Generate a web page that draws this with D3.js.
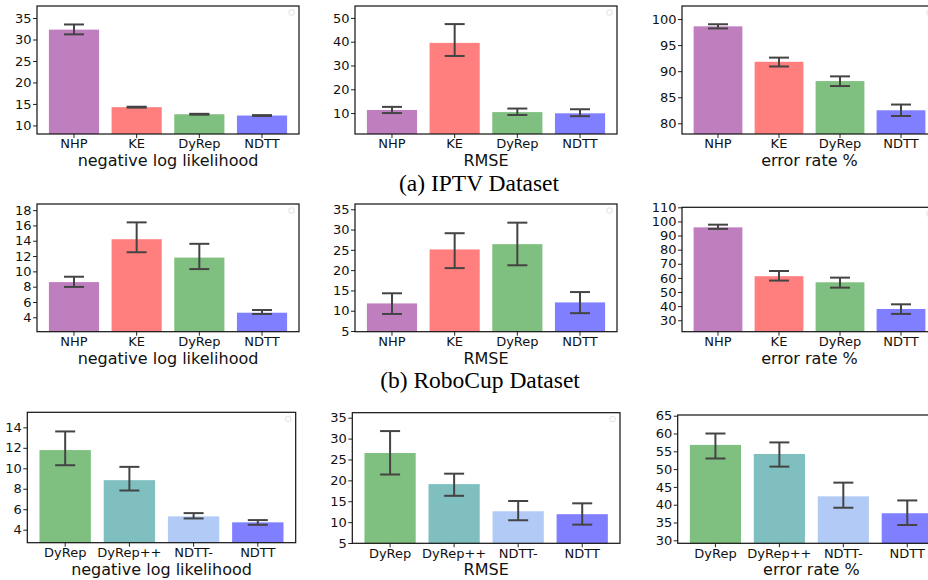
<!DOCTYPE html>
<html>
<head>
<meta charset="utf-8">
<script src="https://cdnjs.cloudflare.com/ajax/libs/d3/7.8.5/d3.min.js"></script>
<style>
	body { margin: 0; background: #fff; }
	text { font-family: "DejaVu Sans", sans-serif; fill: #222; }
	.caption { font-family: "Liberation Serif", "Times New Roman", serif; fill: #000; }
</style>
</head>
<body>
<div class="chart"></div>
<script>

	// models
	var baseModels = ["NHP", "KE", "DyRep", "NDTT"];
	var ablModels = ["DyRep", "DyRep++", "NDTT-", "NDTT"];

	// IPTV
	var iptvNll = [32.3, 14.25, 12.6, 12.3];
	var iptvNllLo = [31.2, 14.15, 12.5, 12.2];
	var iptvNllHi = [33.5, 14.35, 12.7, 12.4];
	var iptvRmse = [11.3, 39.5, 10.4, 9.9];
	var iptvRmseLo = [10.0, 34.0, 9.2, 8.7];
	var iptvRmseHi = [12.6, 47.4, 11.9, 11.6];
	var iptvErr = [98.6, 91.8, 88.1, 82.5];
	var iptvErrLo = [98.2, 90.9, 87.15, 81.4];
	var iptvErrHi = [99.0, 92.6, 89.0, 83.6];

	// RoboCup
	var roboNll = [8.6, 14.2, 11.8, 4.6];
	var roboNllLo = [7.97, 12.5, 10.3, 4.43];
	var roboNllHi = [9.3, 16.4, 13.6, 4.95];
	var roboRmse = [11.8, 25.1, 26.4, 12.05];
	var roboRmseLo = [9.2, 20.5, 21.2, 9.4];
	var roboRmseHi = [14.3, 29.1, 31.7, 14.6];
	var roboErr = [95.8, 61.2, 56.9, 38.0];
	var roboErrLo = [94.7, 58.1, 53.1, 34.5];
	var roboErrHi = [97.7, 64.9, 60.2, 41.3];

	// ablation
	var ablNll = [11.78, 8.84, 5.3, 4.72];
	var ablNllLo = [10.3, 7.83, 5.1, 4.48];
	var ablNllHi = [13.6, 10.14, 5.62, 4.94];
	var ablRmse = [26.55, 19.1, 12.6, 11.9];
	var ablRmseLo = [21.4, 16.3, 10.45, 9.4];
	var ablRmseHi = [31.8, 21.6, 15.06, 14.5];
	var ablErr = [56.8, 54.25, 42.35, 37.6];
	var ablErrLo = [52.98, 50.7, 39.15, 34.3];
	var ablErrHi = [60.0, 57.5, 46.2, 41.2];

	// tick labels
	var ticks1 = [10, 15, 20, 25, 30, 35];
	var ticks2 = [10, 20, 30, 40, 50];
	var ticks3 = [80, 85, 90, 95, 100];
	var ticks4 = [4, 6, 8, 10, 12, 14, 16, 18];
	var ticks5 = [5, 10, 15, 20, 25, 30, 35];
	var ticks6 = [30, 40, 50, 60, 70, 80, 90, 100, 110];
	var ticks7 = [4, 6, 8, 10, 12, 14];
	var ticks8 = [5, 10, 15, 20, 25, 30, 35];
	var ticks9 = [30, 35, 40, 45, 50, 55, 60, 65];

	var colors = {
		"NHP": "#bf7fbf",
		"KE": "#ff7f7f",
		"DyRep": "#7fbf7f",
		"NDTT": "#7f7fff",
		"DyRep++": "#7fbfbf",
		"NDTT-": "#b1caf6"
	};

	var svg = d3.select(".chart").append("svg")
				.attr("width", 928)
				.attr("height", 580);

	var drawPanel = function(box, models, vals, lo, hi, domain, ticks, label){
		var x0 = box[0], y0 = box[1], x1 = box[2], y1 = box[3];

		var x = d3.scaleBand()
				.domain(models)
				.range([x0, x1])
				.paddingInner(0.2)
				.paddingOuter(0.19);

		var y = d3.scaleLinear()
				.domain(domain)
				.range([y1, y0]);

		var g = svg.append("g");

		g.selectAll(".bar")
			.data(models)
			.enter().append("rect")
			.attr("x", function(d){ return x(d); })
			.attr("y", function(d, i){ return y(vals[i]); })
			.attr("width", x.bandwidth())
			.attr("height", function(d, i){ return y1 - y(vals[i]); })
			.style("fill", function(d){ return colors[d]; });

		// error bars
		var eb = g.selectAll(".err")
			.data(models)
			.enter().append("g")
			.attr("stroke", "#444")
			.attr("stroke-width", 2);

		eb.append("line")
			.attr("x1", function(d){ return x(d) + x.bandwidth() / 2; })
			.attr("x2", function(d){ return x(d) + x.bandwidth() / 2; })
			.attr("y1", function(d, i){ return y(lo[i]); })
			.attr("y2", function(d, i){ return y(hi[i]); });

		eb.append("line")
			.attr("x1", function(d){ return x(d) + x.bandwidth() / 2 - 10; })
			.attr("x2", function(d){ return x(d) + x.bandwidth() / 2 + 10; })
			.attr("y1", function(d, i){ return y(lo[i]); })
			.attr("y2", function(d, i){ return y(lo[i]); });

		eb.append("line")
			.attr("x1", function(d){ return x(d) + x.bandwidth() / 2 - 10; })
			.attr("x2", function(d){ return x(d) + x.bandwidth() / 2 + 10; })
			.attr("y1", function(d, i){ return y(hi[i]); })
			.attr("y2", function(d, i){ return y(hi[i]); });

		// axes
		g.append("g")
			.attr("transform", "translate(" + x0 + ",0)")
			.call(d3.axisLeft(y).tickValues(ticks).tickSize(4).tickPadding(1.5));

		g.append("g")
			.attr("transform", "translate(0," + y1 + ")")
			.call(d3.axisBottom(x).tickSize(4).tickPadding(1));

		g.selectAll(".domain").remove();
		g.selectAll(".tick text")
			.attr("font-size", "13px")
			.style("font-family", "DejaVu Sans")
			.style("fill", "#111");
		g.selectAll(".tick line").attr("stroke", "#222");

		// frame
		g.append("rect")
			.attr("x", x0)
			.attr("y", y0)
			.attr("width", x1 - x0)
			.attr("height", y1 - y0)
			.style("fill", "none")
			.style("stroke", "#111")
			.style("stroke-width", 1.2);

		// empty legend
		g.append("rect")
			.attr("x", x1 - 10)
			.attr("y", y0 + 4)
			.attr("width", 5)
			.attr("height", 5)
			.attr("rx", 1)
			.style("fill", "#fff")
			.style("stroke", "#d8d8d8")
			.style("stroke-width", 0.8);

		g.append("text")
			.attr("x", (x0 + x1) / 2)
			.attr("y", y1 + 32)
			.attr("text-anchor", "middle")
			.attr("font-size", "16px")
			.style("fill", "#111")
			.text(label);
	};

	// (a) IPTV
	drawPanel([37, 6, 299, 134], baseModels, iptvNll, iptvNllLo, iptvNllHi, [8, 37.8], ticks1, "negative log likelihood");
	drawPanel([355, 6, 617, 134], baseModels, iptvRmse, iptvRmseLo, iptvRmseHi, [1.2, 55], ticks2, "RMSE");
	drawPanel([682, 6, 937, 134], baseModels, iptvErr, iptvErrLo, iptvErrHi, [77.95, 102.5], ticks3, "error rate %");

	// (b) RoboCup
	drawPanel([37, 204, 299, 331.7], baseModels, roboNll, roboNllLo, roboNllHi, [2.12, 18.8], ticks4, "negative log likelihood");
	drawPanel([355, 204, 617, 331.7], baseModels, roboRmse, roboRmseLo, roboRmseHi, [4.83, 36.3], ticks5, "RMSE");
	drawPanel([682, 207.3, 937, 331.7], baseModels, roboErr, roboErrLo, roboErrHi, [21.9, 110], ticks6, "error rate %");

	// ablation
	drawPanel([27.3, 412.3, 295.7, 542.7], ablModels, ablNll, ablNllLo, ablNllHi, [2.73, 15.47], ticks7, "negative log likelihood");
	drawPanel([352.3, 412.7, 620, 543.3], ablModels, ablRmse, ablRmseLo, ablRmseHi, [4.93, 36.2], ticks8, "RMSE");
	drawPanel([677.7, 415, 945, 543.3], ablModels, ablErr, ablErrLo, ablErrHi, [29.16, 65.2], ticks9, "error rate %");

	// captions
	svg.append("text")
		.attr("class", "caption")
		.attr("x", 479)
		.attr("y", 191)
		.attr("text-anchor", "middle")
		.attr("font-size", "23.5px")
		.style("font-family", "Liberation Serif")
		.style("fill", "#000")
		.text("(a) IPTV Dataset");

	svg.append("text")
		.attr("class", "caption")
		.attr("x", 480)
		.attr("y", 388)
		.attr("text-anchor", "middle")
		.attr("font-size", "23.5px")
		.style("font-family", "Liberation Serif")
		.style("fill", "#000")
		.text("(b) RoboCup Dataset");

</script>
</body>
</html>
